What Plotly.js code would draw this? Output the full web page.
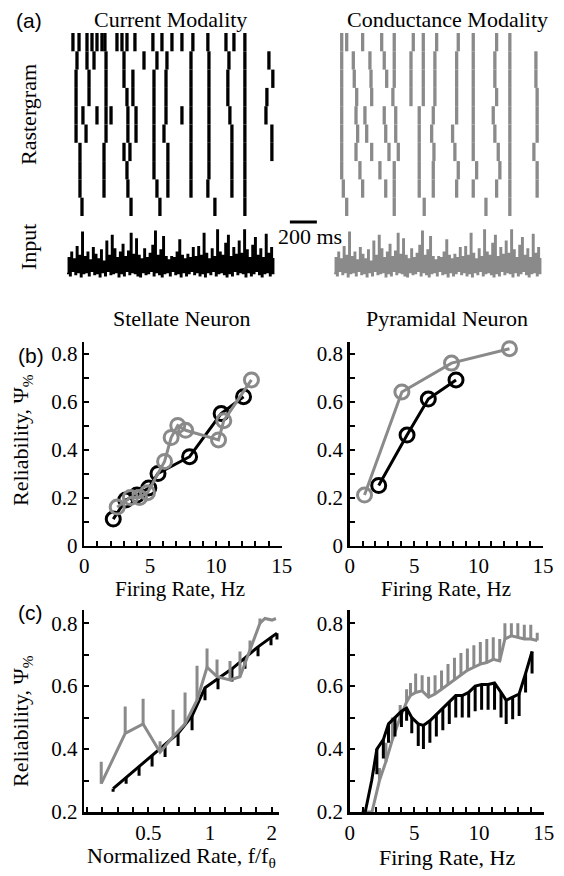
<!DOCTYPE html>
<html><head><meta charset="utf-8">
<script src="https://cdn.plot.ly/plotly-3.0.1.min.js"></script>
<style>html,body{margin:0;padding:0;background:#fff;}#chart{width:564px;height:876px;}</style>
</head><body><div id="chart"></div>
<script>
// ---------- DATA ----------
// (a) spike times (ms) per trial, current modality
const currentTrials = [
 [44, 89, 148, 185, 222, 259, 281, 370, 407, 444, 503, 636, 703, 777, 851, 932, 1043, 1177, 1236, 1317],
 [74, 148, 200, 289, 422, 570, 666, 740, 918, 1051, 1199, 1317, 1495],
 [67, 163, 289, 422, 488, 644, 733, 918, 1051, 1191, 1317, 1524],
 [67, 163, 289, 444, 488, 644, 733, 918, 1051, 1191, 1317, 1480],
 [67, 118, 222, 289, 326, 451, 511, 644, 733, 851, 918, 1051, 1206, 1317, 1473],
 [67, 141, 289, 451, 511, 644, 718, 918, 1051, 1221, 1317, 1517],
 [96, 274, 422, 466, 644, 747, 918, 1051, 1221, 1317, 1517],
 [96, 274, 444, 644, 747, 918, 1051, 1221, 1317],
 [96, 274, 451, 666, 747, 918, 1043, 1221, 1317],
 [111, 474, 688, 1095, 1317]
];
// (a) spike times (ms) per trial, conductance modality
const conductanceTrials = [
 [57, 94, 212, 353, 446, 587, 661, 760, 920, 1031, 1204, 1302],
 [57, 143, 266, 372, 446, 570, 661, 747, 908, 1031, 1191, 1302, 1495],
 [57, 150, 274, 390, 446, 570, 661, 747, 908, 1031, 1191, 1302, 1495],
 [57, 168, 279, 436, 570, 661, 747, 908, 1031, 1204, 1302, 1504],
 [57, 163, 229, 372, 457, 631, 735, 908, 1031, 1179, 1302, 1504],
 [57, 175, 242, 383, 457, 631, 723, 878, 1031, 1191, 1302, 1504],
 [57, 163, 279, 407, 476, 631, 740, 895, 1031, 1216, 1302, 1480],
 [57, 192, 340, 446, 631, 735, 920, 1056, 1228, 1302, 1504],
 [69, 212, 383, 446, 631, 735, 908, 1031, 1204, 1302, 1504],
 [94, 446, 668, 1125, 1302]
];
// (a) input signal (arbitrary units), one sample every inputStepMs
const inputStepMs = 10;
const inputSignal = [
 -1.0, 0.4, -1.2, 0.9, -0.8, 0.3, -1.1, 1.4, -0.9, 0.6, -1.3, 2.7, -1.0, 0.5, -0.9, 0.9, -1.2, 0.2, -0.8, 1.3,
 -1.1, 0.7, -1.0, 0.3, -1.3, 1.1, -0.9, 0.1, -1.2, 1.9, -0.8, 0.6, -1.1, 2.4, -1.0, 1.2, -0.9, 0.4, -1.3, 0.9,
 -1.0, 1.6, -1.2, 0.5, -0.8, 1.0, -1.1, 2.6, -0.9, 0.7, -1.0, 2.1, -1.2, 0.6, -1.3, 0.3, -0.9, 1.2, -1.1, 0.4,
 -1.0, 0.8, -0.8, 1.5, -1.2, 2.8, -0.9, 0.6, -1.1, 1.1, -1.3, 2.3, -1.0, 0.5, -0.9, 0.2, -1.2, 0.5, -0.8, 0.4,
 -1.1, 0.9, -1.0, 2.0, -1.3, 0.6, -0.9, 0.3, -1.2, 0.7, -1.0, 0.4, -0.8, 1.3, -1.1, 0.5, -0.9, 1.4, -1.2, 0.6,
 -1.0, 2.6, -1.3, 0.8, -0.9, 0.3, -1.1, 1.2, -0.8, 0.5, -1.2, 2.9, -1.0, 0.9, -0.9, 0.6, -1.1, 1.7, -1.3, 2.4,
 -1.0, 0.5, -1.2, 1.3, -0.8, 0.7, -1.1, 1.9, -0.9, 0.8, -1.0, 2.9, -1.3, 1.1, -0.9, 0.4, -1.2, 1.5, -1.0, 2.2,
 -0.8, 0.6, -1.1, 1.2, -1.3, 0.4, -1.0, 2.5, -0.9, 0.8, -1.2, 1.3, -1.0, 0.4
];
const scaleBarStartMs = 1650;
const scaleBarMs = 200;

// (b) Stellate neuron: firing rate (Hz) vs reliability
const stellateCurrentRate = [2.2, 3.15, 4.0, 4.9, 5.6, 8.0, 10.4, 12.1];
const stellateCurrentRel  = [0.11, 0.19, 0.21, 0.24, 0.30, 0.37, 0.55, 0.62];
const stellateCondRate = [2.5, 3.5, 4.2, 4.8, 6.1, 6.6, 7.1, 7.7, 10.2, 10.6, 12.7];
const stellateCondRel  = [0.16, 0.20, 0.20, 0.22, 0.35, 0.45, 0.50, 0.48, 0.44, 0.52, 0.69];
// (b) Pyramidal neuron
const pyramidalCurrentRate = [2.25, 4.45, 6.1, 8.25];
const pyramidalCurrentRel  = [0.25, 0.46, 0.61, 0.69];
const pyramidalCondRate = [1.15, 4.05, 7.9, 12.4];
const pyramidalCondRel  = [0.21, 0.64, 0.76, 0.82];

// (c) left: normalized rate vs reliability (error: current downward, conductance upward)
const normCurrentX = [0.336, 0.389, 0.450, 0.521, 0.603, 0.698, 0.817, 0.945, 1.094, 1.280, 1.482, 1.716, 1.986, 2.124];
const normCurrentY = [0.274, 0.31, 0.345, 0.38, 0.415, 0.45, 0.505, 0.595, 0.625, 0.655, 0.69, 0.725, 0.755, 0.768];
const normCurrentErr = [0.01, 0.02, 0.03, 0.035, 0.04, 0.04, 0.045, 0.04, 0.035, 0.04, 0.035, 0.03, 0.025, 0.02];
const normCondX = [0.294, 0.385, 0.471, 0.570, 0.660, 0.755, 0.864, 0.967, 1.082, 1.252, 1.401, 1.568, 1.754, 1.856, 2.008, 2.10];
const normCondY = [0.29, 0.45, 0.48, 0.39, 0.44, 0.48, 0.555, 0.66, 0.63, 0.62, 0.63, 0.715, 0.80, 0.815, 0.81, 0.815];
const normCondErr = [0.07, 0.085, 0.08, 0.035, 0.085, 0.10, 0.11, 0.06, 0.055, 0.06, 0.08, 0.03, 0.015, 0, 0, 0];

// (c) right: firing rate (Hz) vs reliability
const rateCurrentX = [1.2, 1.7, 2.1, 2.6, 3.0, 3.5, 4.0, 4.4, 4.8, 5.3, 5.7, 6.2, 6.7, 7.2, 7.7, 8.2, 8.7, 9.2, 9.7, 10.2, 10.7, 11.2, 11.7, 12.1, 12.6, 13.1, 13.6, 14.1];
const rateCurrentY = [0.2, 0.3, 0.40, 0.43, 0.48, 0.50, 0.52, 0.53, 0.50, 0.48, 0.475, 0.49, 0.51, 0.53, 0.55, 0.57, 0.57, 0.58, 0.60, 0.605, 0.605, 0.61, 0.58, 0.555, 0.565, 0.575, 0.64, 0.71];
const rateCurrentErr = [0, 0, 0.08, 0.06, 0.06, 0.06, 0.05, 0.04, 0.05, 0.07, 0.075, 0.07, 0.07, 0.07, 0.07, 0.07, 0.07, 0.08, 0.08, 0.08, 0.08, 0.085, 0.08, 0.075, 0.07, 0.07, 0.06, 0.07];
const rateCondX = [0.9, 1.72, 2.3, 2.8, 3.3, 3.9, 4.4, 4.7, 5.1, 5.6, 6.1, 6.6, 7.1, 7.6, 8.1, 8.6, 9.1, 9.6, 10.1, 10.6, 11.1, 11.6, 12.0, 12.5, 13.0, 13.5, 14.0, 14.5];
const rateCondY = [0.2, 0.2, 0.3, 0.36, 0.43, 0.50, 0.55, 0.57, 0.58, 0.585, 0.565, 0.575, 0.59, 0.605, 0.62, 0.635, 0.65, 0.66, 0.67, 0.675, 0.685, 0.68, 0.75, 0.76, 0.755, 0.75, 0.75, 0.745];
const rateCondErr = [0, 0, 0.04, 0.06, 0.07, 0.04, 0.04, 0.04, 0.06, 0.05, 0.065, 0.06, 0.06, 0.065, 0.07, 0.07, 0.07, 0.07, 0.07, 0.075, 0.07, 0.07, 0.05, 0.04, 0.045, 0.045, 0.045, 0.025];

// tick labels
const rateTickVals = [0, 5, 10, 15];
const relTickValsB = [0, 0.2, 0.4, 0.6, 0.8];
const relTickTextB = ['0', '0.2', '0.4', '0.6', '0.8'];
const relTickValsC = [0.2, 0.4, 0.6, 0.8];
const relTickTextC = ['0.2', '0.4', '0.6', '0.8'];
const normTickVals = [0.5, 1, 2];
const normTickText = ['0.5', '1', '2'];

// ---------- STYLE / LAYOUT ----------
const W = 564, H = 876;
const PX = p => p / W;
const PY = p => 1 - p / H;
const BLACK = '#000000', GRAY = '#8a8a8a';
const SERIF = 'Liberation Serif', SANS = 'Liberation Sans';
const T_MAX = 1540;

function rasterTrace(trials, color, xa, ya) {
  const x = [], y = [];
  trials.forEach((spikes, i) => spikes.forEach(t => { x.push(t, t, null); y.push(i + 0.5, i + 1.5, null); }));
  return {type: 'scatter', mode: 'lines', x, y, xaxis: xa, yaxis: ya,
          line: {color, width: 3.3}, hoverinfo: 'skip', showlegend: false};
}
function inputTrace(color, xa, ya) {
  return {type: 'scatter', mode: 'lines', x: inputSignal.map((_, i) => i * inputStepMs), y: inputSignal,
          xaxis: xa, yaxis: ya, line: {color, width: 1.6, shape: 'hv'}, hoverinfo: 'skip', showlegend: false};
}
function circleTrace(x, y, color, xa, ya) {
  return {type: 'scatter', mode: 'lines+markers', x, y, xaxis: xa, yaxis: ya,
          line: {color, width: 3}, marker: {symbol: 'circle-open', size: 14, color, line: {color, width: 3}},
          cliponaxis: false, hoverinfo: 'skip', showlegend: false};
}
function errTrace(x, y, err, up, color, xa, ya) {
  const zeros = err.map(() => 0);
  return {type: 'scatter', mode: 'lines', x, y, xaxis: xa, yaxis: ya, line: {color, width: 3},
          error_y: {type: 'data', symmetric: false, array: up ? err : zeros, arrayminus: up ? zeros : err,
                    width: 0, thickness: 3, color},
          hoverinfo: 'skip', showlegend: false};
}

const data = [
  rasterTrace(currentTrials, BLACK, 'x', 'y'),
  inputTrace(BLACK, 'x2', 'y2'),
  rasterTrace(conductanceTrials, GRAY, 'x3', 'y3'),
  inputTrace(GRAY, 'x4', 'y4'),
  circleTrace(stellateCurrentRate, stellateCurrentRel, BLACK, 'x5', 'y5'),
  circleTrace(stellateCondRate, stellateCondRel, GRAY, 'x5', 'y5'),
  circleTrace(pyramidalCondRate, pyramidalCondRel, GRAY, 'x6', 'y6'),
  circleTrace(pyramidalCurrentRate, pyramidalCurrentRel, BLACK, 'x6', 'y6'),
  errTrace(normCurrentX, normCurrentY, normCurrentErr, false, BLACK, 'x7', 'y7'),
  errTrace(normCondX, normCondY, normCondErr, true, GRAY, 'x7', 'y7'),
  errTrace(rateCondX, rateCondY, rateCondErr, true, GRAY, 'x8', 'y8'),
  errTrace(rateCurrentX, rateCurrentY, rateCurrentErr, false, BLACK, 'x8', 'y8')
];

const hidden = (dom, range, anchor) => ({domain: dom, range, anchor, visible: false, fixedrange: true});
const tickFont = {family: SERIF, size: 21, color: BLACK};
function valueAxis(dom, range, anchor, tickvals, ticktext, minor, extra) {
  return Object.assign({domain: dom, range, anchor, showline: true, linecolor: BLACK, linewidth: 2.5,
    ticks: 'inside', ticklen: 5, tickwidth: 2, tickcolor: BLACK, tickmode: 'array', tickvals, ticktext,
    minor: Object.assign({ticks: 'inside', ticklen: 5, tickwidth: 2, tickcolor: BLACK, showgrid: false}, minor),
    tickfont: tickFont, showgrid: false, zeroline: false, fixedrange: true}, extra || {});
}
const normMinor = []; for (let k = -4; k <= 8; k++) normMinor.push(0.5 * Math.pow(2, k / 4));
const rateMinor = {tickmode: 'linear', tick0: 0, dtick: 1};
const relMinor = {tickmode: 'linear', tick0: 0, dtick: 0.1};

const rasterLeftDom = [PX(67), PX(275)], rasterRightDom = [PX(334), PX(542)];
const rasterYDom = [PY(216), PY(33)], inputYDom = [PY(279), PY(229)];

const layout = {
  width: W, height: H, margin: {l: 0, r: 0, t: 0, b: 0},
  paper_bgcolor: '#ffffff', plot_bgcolor: 'rgba(0,0,0,0)', showlegend: false,
  font: {family: SERIF, color: BLACK, size: 22},
  xaxis: hidden(rasterLeftDom, [0, T_MAX], 'y'),
  yaxis: hidden(rasterYDom, [10.5, 0.5], 'x'),
  xaxis2: hidden(rasterLeftDom, [0, T_MAX], 'y2'),
  yaxis2: hidden(inputYDom, [-1.5, 3.0], 'x2'),
  xaxis3: hidden(rasterRightDom, [0, T_MAX], 'y3'),
  yaxis3: hidden(rasterYDom, [10.5, 0.5], 'x3'),
  xaxis4: hidden(rasterRightDom, [0, T_MAX], 'y4'),
  yaxis4: hidden(inputYDom, [-1.5, 3.0], 'x4'),
  xaxis5: valueAxis([PX(84.3), PX(281.7)], [0, 15], 'y5', rateTickVals, rateTickVals.map(String), rateMinor),
  yaxis5: valueAxis([PY(545.5), PY(342)], [0, 0.848], 'x5', relTickValsB, relTickTextB, relMinor),
  xaxis6: valueAxis([PX(349.7), PX(543)], [0, 15], 'y6', rateTickVals, rateTickVals.map(String), rateMinor),
  yaxis6: valueAxis([PY(545.5), PY(342)], [0, 0.848], 'x6', relTickValsB, relTickTextB, relMinor),
  xaxis7: valueAxis([PX(84.3), PX(279)], [Math.log10(0.243), Math.log10(2.173)], 'y7', normTickVals, normTickText,
                    {tickmode: 'array', tickvals: normMinor}, {type: 'log'}),
  yaxis7: valueAxis([PY(812), PY(610)], [0.2, 0.842], 'x7', relTickValsC, relTickTextC, relMinor),
  xaxis8: valueAxis([PX(349.7), PX(543.7)], [0, 15], 'y8', rateTickVals, rateTickVals.map(String), rateMinor),
  yaxis8: valueAxis([PY(812), PY(610)], [0.2, 0.842], 'x8', relTickValsC, relTickTextC, relMinor),
  shapes: [{
    type: 'line', xref: 'paper', yref: 'paper',
    x0: rasterLeftDom[0] + scaleBarStartMs / T_MAX * (rasterLeftDom[1] - rasterLeftDom[0]),
    x1: rasterLeftDom[0] + (scaleBarStartMs + scaleBarMs) / T_MAX * (rasterLeftDom[1] - rasterLeftDom[0]),
    y0: PY(222), y1: PY(222), line: {color: BLACK, width: 3}
  }],
  annotations: []
};
function ann(text, x, y, opts) {
  layout.annotations.push(Object.assign({text, x: PX(x), y: PY(y), xref: 'paper', yref: 'paper',
    xanchor: 'center', yanchor: 'middle', showarrow: false, font: {family: SERIF, size: 22, color: BLACK}}, opts || {}));
}
const sans = {family: SANS, size: 21, color: BLACK};
const f21 = {family: SERIF, size: 21, color: BLACK};
ann('(a)', 14, 21, {xanchor: 'left', font: sans});
ann('(b)', 16, 356, {xanchor: 'left', font: sans});
ann('(c)', 16, 612, {xanchor: 'left', font: sans});
ann('Current Modality', 170, 20);
ann('Conductance Modality', 447, 20);
ann('Rastergram', 28, 115, {textangle: -90});
ann('Input', 28, 247, {textangle: -90});
ann('200 ms', 276, 236, {xanchor: 'left'});
ann('Stellate Neuron', 181, 318);
ann('Pyramidal Neuron', 447, 318);
ann('Reliability, Ψ<sub>%</sub>', 22, 440, {textangle: -90});
ann('Reliability, Ψ<sub>%</sub>', 22, 721, {textangle: -90});
ann('Firing Rate, Hz', 180, 589, {font: f21});
ann('Firing Rate, Hz', 446, 589, {font: f21});
ann('Normalized Rate, f/f<sub>θ</sub>', 181, 857);
ann('Firing Rate, Hz', 447, 857);

Plotly.newPlot('chart', data, layout, {staticPlot: true, displayModeBar: false});
</script></body></html>
